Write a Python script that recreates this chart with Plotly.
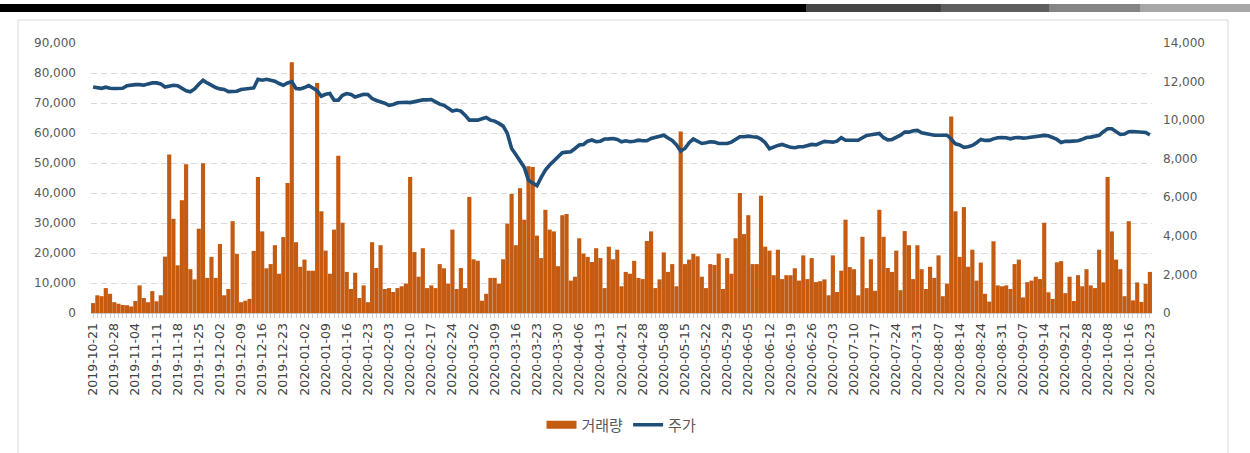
import pandas as pd
import plotly.graph_objects as go

# ---------------- data ----------------
START_DATE = "2019-10-21"
END_DATE = "2020-10-23"
KRX_HOLIDAYS = ["2019-12-25", "2019-12-31", "2020-01-01", "2020-01-24", "2020-01-27",
                "2020-04-15", "2020-04-30", "2020-05-01", "2020-05-05", "2020-08-17",
                "2020-09-30", "2020-10-01", "2020-10-02", "2020-10-09"]
dates = [d.strftime("%Y-%m-%d") for d in pd.bdate_range(START_DATE, END_DATE)
         if d.strftime("%Y-%m-%d") not in KRX_HOLIDAYS]

volume = [
    3300, 5900, 5600, 8300, 6400, 3600, 3100, 2700, 2600, 2200,
    4000, 9200, 5000, 3600, 7300, 3900, 5900, 18800, 52800, 31400,
    15900, 37600, 49600, 14600, 11200, 28100, 49900, 11700, 18700, 11700,
    23000, 5900, 8000, 30600, 19700, 3600, 4100, 4700, 20700, 45300,
    27200, 14900, 16300, 22600, 13100, 25300, 43300, 83600, 23600, 15400,
    17800, 14100, 14100, 76700, 33900, 20800, 13100, 27800, 52400, 30100,
    13700, 8000, 13400, 5000, 9200, 3600, 23600, 15000, 22600, 8000,
    8300, 7000, 8300, 8900, 9800, 45300, 20300, 12100, 21600, 8300,
    9200, 8300, 16300, 14900, 9800, 27800, 8000, 15000, 8300, 38700,
    17900, 17400, 4100, 6400, 11700, 11700, 9800, 17900, 29800, 39700,
    22600, 41600, 31100, 48900, 48700, 25800, 18300, 34400, 27800, 27200,
    15600, 32600, 33000, 10800, 12100, 24900, 19800, 18700, 17000, 21600,
    18300, 8300, 22100, 17900, 21100, 8900, 13700, 13100, 17400, 11700,
    11300, 24000, 27200, 8300, 11200, 20200, 13700, 16300, 8900, 60500,
    16300, 17800, 19700, 18900, 12100, 8300, 16300, 16000, 19800, 8000,
    18300, 13100, 24900, 40000, 26300, 32600, 16300, 16300, 39100, 22100,
    20800, 12600, 21100, 11300, 12600, 12600, 14900, 10800, 19200, 11300,
    18300, 10300, 10600, 11200, 5900, 19200, 7000, 14100, 31100, 15300,
    14600, 5900, 25400, 8300, 17900, 7400, 34400, 25400, 15000, 13700,
    20800, 7600, 27300, 22600, 11300, 22600, 14600, 8000, 15400, 11700,
    19200, 5600, 9800, 65500, 33900, 18700, 35300, 15400, 21100, 10800,
    16800, 6400, 3800, 23900, 9200, 8900, 9200, 8000, 16300, 17800,
    5200, 10300, 10800, 12100, 11300, 30100, 6900, 4700, 16900, 17300,
    6600, 12100, 4000, 12600, 8900, 14600, 9200, 8300, 21100, 10200,
    45300, 27200, 17800, 14600, 5600, 30600, 4200, 10200, 3700, 9700,
    13700,
]

price = [
    11720, 11690, 11650, 11710, 11650, 11640, 11640, 11650, 11780, 11830,
    11840, 11840, 11810, 11880, 11930, 11930, 11880, 11720, 11760, 11810,
    11780, 11640, 11520, 11470, 11620, 11860, 12070, 11930, 11790, 11690,
    11620, 11590, 11480, 11470, 11500, 11590, 11620, 11620, 11670, 12120,
    12070, 12120, 12070, 12020, 11900, 11810, 11930, 12000, 11640, 11620,
    11690, 11790, 11670, 11520, 11240, 11340, 11380, 11030, 11030, 11290,
    11380, 11330, 11200, 11270, 11340, 11330, 11120, 11020, 10960, 10880,
    10770, 10810, 10900, 10930, 10930, 10910, 10950, 11020, 11050, 11050,
    11070, 10950, 10830, 10770, 10600, 10470, 10520, 10470, 10260, 10000,
    10000, 10000, 10070, 10140, 10000, 9950, 9830, 9690, 9310, 8530,
    8220, 7900, 7550, 6880, 6760, 6600, 7030, 7410, 7670, 7880,
    8070, 8310, 8340, 8360, 8530, 8710, 8740, 8910, 8970, 8880,
    8910, 9020, 9030, 9050, 9000, 8880, 8930, 8880, 8910, 8960,
    8930, 8930, 9050, 9100, 9150, 9220, 9070, 8950, 8720, 8400,
    8530, 8830, 9020, 8930, 8790, 8830, 8880, 8860, 8790, 8790,
    8790, 8860, 9000, 9140, 9140, 9170, 9140, 9120, 9020, 8830,
    8520, 8620, 8690, 8740, 8650, 8590, 8570, 8620, 8620, 8670,
    8740, 8720, 8830, 8900, 8880, 8860, 8910, 9090, 8960, 8950,
    8950, 8960, 9090, 9210, 9240, 9260, 9310, 9090, 8980, 9000,
    9090, 9220, 9380, 9380, 9450, 9470, 9340, 9290, 9240, 9220,
    9220, 9220, 9220, 9020, 8770, 8710, 8590, 8620, 8690, 8830,
    9000, 8950, 8950, 9030, 9090, 9100, 9090, 9030, 9090, 9100,
    9070, 9090, 9120, 9140, 9140, 9210, 9190, 9100, 9000, 8840,
    8900, 8900, 8910, 8930, 9000, 9100, 9120, 9150, 9210, 9400,
    9550, 9550, 9410, 9260, 9280, 9400, 9410, 9380, 9360, 9360,
    9240,
]

LABEL_EVERY = 5
tick_text = [d if i % LABEL_EVERY == 0 else "" for i, d in enumerate(dates)]

BAR_COLOR = "#C55A11"
LINE_COLOR = "#1F4E79"
TEXT_COLOR = "#595959"
XLABEL_COLOR = "#404040"

# ---------------- geometry (pixels) ----------------
W, H = 1250, 453
L, R, T, B = 91, 98, 43, 140
PW, PH = W - L - R, H - T - B


def px(x):
    return (x - L) / PW


def py(y):
    return (H - B - y) / PH


fig = go.Figure()
fig.add_trace(go.Bar(x=dates, y=volume, name="거래량", marker_color=BAR_COLOR,
                     marker_line_width=0, showlegend=False, yaxis="y"))
fig.add_trace(go.Scatter(x=[None], y=[None], mode="lines", name="거래량",
                         line=dict(color=BAR_COLOR, width=8)))
fig.add_trace(go.Scatter(x=dates, y=price, mode="lines", name="주가",
                         line=dict(color=LINE_COLOR, width=3.6), yaxis="y2"))

shapes = [
    # outer chart frame
    dict(type="rect", xref="paper", yref="paper", x0=px(18), x1=px(1228), y0=py(470), y1=py(20),
         line=dict(color="#d9d9d9", width=1), fillcolor="rgba(0,0,0,0)", layer="below"),
]
# header band at the very top
for x0, x1, col in [(0, 806, "#000000"), (806, 941, "#454545"), (941, 1049, "#5f5f5f"),
                    (1049, 1140, "#848484"), (1140, 1250, "#a6a6a6")]:
    shapes.append(dict(type="rect", xref="paper", yref="paper", x0=px(x0), x1=px(x1),
                       y0=py(12), y1=py(4), line=dict(width=0), fillcolor=col))

fig.update_layout(
    width=W, height=H,
    margin=dict(l=L, r=R, t=T, b=B),
    paper_bgcolor="white", plot_bgcolor="white",
    bargap=0.02,
    font=dict(family="DejaVu Sans", color=TEXT_COLOR),
    xaxis=dict(type="category", range=[-0.5, len(dates) - 0.5],
               tickmode="array", tickvals=dates, ticktext=tick_text,
               tickangle=-90, tickfont=dict(family="DejaVu Sans", size=12.5, color=XLABEL_COLOR),
               ticks="outside", ticklen=4, tickcolor="#d0d0d0", tickwidth=1,
               showline=True, linecolor="#c8c8c8", linewidth=1,
               showgrid=False, zeroline=False),
    yaxis=dict(range=[0, 90000], dtick=10000, tickformat=",",
               tickfont=dict(family="DejaVu Sans", size=12, color=TEXT_COLOR),
               showgrid=True, gridcolor="#d9d9d9", griddash="6px,4px", gridwidth=1,
               zeroline=False, showline=False, ticks="", ticklabelstandoff=14),
    yaxis2=dict(range=[0, 14000], dtick=2000, tickformat=",", overlaying="y", side="right",
                tickfont=dict(family="DejaVu Sans", size=12, color=TEXT_COLOR),
                showgrid=False, zeroline=False, showline=False, ticks="", ticklabelstandoff=10),
    legend=dict(orientation="h", x=0.5, xanchor="center", y=py(425), yanchor="middle",
                font=dict(family="Noto Sans CJK KR", size=15, color=TEXT_COLOR),
                bgcolor="rgba(0,0,0,0)", itemwidth=30),
    shapes=shapes,
)

fig.write_html("out.html", config={"displayModeBar": False},
               post_script="document.body.style.margin='0';")
